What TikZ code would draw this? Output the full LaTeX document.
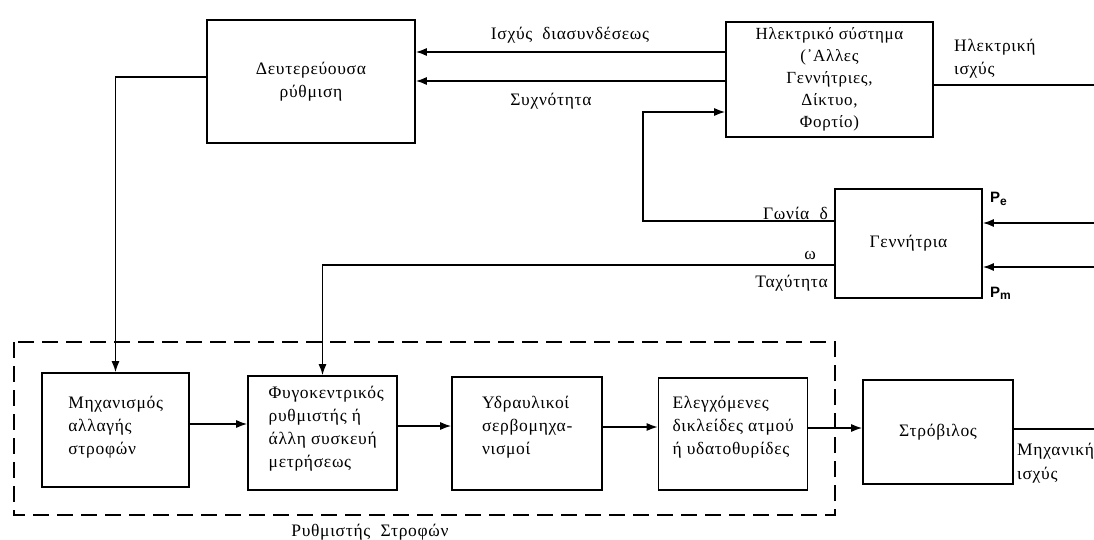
\documentclass[tikz,border=0pt]{standalone}
\usepackage{fontspec}
\setmainfont{Liberation Serif}[LetterSpace=4]
\setsansfont{Liberation Sans}
\usetikzlibrary{arrows.meta}
\newlength\wmech
\newlength\wfyg
\newlength\whyd
\newlength\wvalve
\newcommand\bfnt{\fontsize{17.5}{23}\selectfont}
\newcommand\psub[1]{P\raisebox{-2.5pt}{\fontsize{12}{12}\selectfont #1}}
\begin{document}
\settowidth{\wmech}{\bfnt Μηχανισμός}%
\settowidth{\wfyg}{\bfnt άλλη συσκευή}%
\settowidth{\whyd}{\bfnt σερβομηχα-}%
\settowidth{\wvalve}{\bfnt δικλείδες ατμού}%
\begin{tikzpicture}[x=1pt,y=-1pt,
  box/.style={draw, line width=1.6pt, inner sep=0pt, font=\bfnt},
  cbox/.style={box, align=center},
  tl/.style={font=\bfnt, inner sep=0pt, anchor=base west},
  arr/.style={-{Latex[length=11pt,width=8pt]}, line width=1.5pt},
  ln/.style={line width=1.5pt},
  lbl/.style={font=\bfnt, inner sep=0pt},
  plbl/.style={inner sep=0pt, anchor=base west, font=\fontsize{15}{17}\sffamily\bfseries},
  dashbox/.style={draw, line width=1.7pt, dash pattern=on 16pt off 8pt}]
\useasboundingbox (0,0) rectangle (1094,540);
\fill[white] (0,0) rectangle (1094,540);

% boxes
\node[cbox, minimum width=208pt, minimum height=123pt] (sec) at (311,81.5) {Δευτερεύουσα\\ρύθμιση};
\node[cbox, minimum width=207pt, minimum height=115pt, font=\fontsize{17}{22}\selectfont] (elec) at (829.5,79.5) {Ηλεκτρικό σύστημα\\(᾿Αλλες\\Γεννήτριες,\\Δίκτυο,\\Φορτίο)};
\node[cbox, minimum width=147pt, minimum height=109pt] (gen) at (908.5,243.5) {Γεννήτρια};
\node[box, minimum width=147pt, minimum height=114pt] (mech) at (115.5,430) {};
\node[box, minimum width=149pt, minimum height=114pt] (fyg) at (322.5,433) {};
\node[box, minimum width=150pt, minimum height=113pt] (hyd) at (527,433.5) {};
\node[box, minimum width=149pt, minimum height=112pt] (valve) at (733,434) {};
\node[cbox, minimum width=150pt, minimum height=104pt] (turb) at (938,432) {Στρόβιλος};

% left-aligned texts of the governor boxes
\coordinate (mechL) at ([xshift=-0.5\wmech]mech.center);
\node[tl] (mech1) at (mechL |- 0,408) {Μηχανισμός};
\node[tl] (mech2) at (mechL |- 0,431) {αλλαγής};
\node[tl] (mech3) at (mechL |- 0,454) {στροφών};

\coordinate (fygL) at ([xshift=-0.5\wfyg]fyg.center);
\node[tl] (fyg1) at (fygL |- 0,398) {Φυγοκεντρικός};
\node[tl] (fyg2) at (fygL |- 0,421) {ρυθμιστής ή};
\node[tl] (fyg3) at (fygL |- 0,444) {άλλη συσκευή};
\node[tl] (fyg4) at (fygL |- 0,467) {μετρήσεως};

\coordinate (hydL) at ([xshift=-0.5\whyd]hyd.center);
\node[tl] (hyd1) at (hydL |- 0,408) {Υδραυλικοί};
\node[tl] (hyd2) at (hydL |- 0,431) {σερβομηχα-};
\node[tl] (hyd3) at (hydL |- 0,454) {νισμοί};

\coordinate (valveL) at ([xshift=-0.5\wvalve]valve.center);
\node[tl] (valve1) at (valveL |- 0,408) {Ελεγχόμενες};
\node[tl] (valve2) at (valveL |- 0,431) {δικλείδες ατμού};
\node[tl] (valve3) at (valveL |- 0,454) {ή υδατοθυρίδες};

% dashed governor frame
\draw[dashbox] (14,342) rectangle (835,515);
\node[lbl] (gov) at (370,532) {Ρυθμιστής\ \ Στροφών};

% helper coordinates
\coordinate (yA) at (0,52);
\coordinate (yB) at (0,81);
\coordinate (yC) at (0,112);
\coordinate (yS) at (0,77);
\coordinate (yD) at (0,221);
\coordinate (yW) at (0,265);
\coordinate (yPe) at (0,223);
\coordinate (yPm) at (0,267);
\coordinate (yP) at (0,85);
\coordinate (xD) at (643,0);
\coordinate (peIn) at (1094,223);
\coordinate (pmIn) at (1094,267);
\coordinate (elOut) at (1094,85);
\coordinate (mOut) at (1094,429);

% top connectors
\draw[arr] (elec.west |- yA) -- (sec.east |- yA);
\draw[arr] (elec.west |- yB) -- (sec.east |- yB);
\node[lbl] (lA) at (570,35) {Ισχύς\ \ διασυνδέσεως};
\node[lbl] (lB) at (551,101) {Συχνότητα};
\draw[ln] (elec.east |- yP) -- (elOut);
\node[tl] (lP1) at (954,52) {Ηλεκτρική};
\node[tl] (lP2) at (954,75) {ισχύς};

% secondary control down to speed changer
\draw[arr] (sec.west |- yS) -| (mech.north);

% generator loops
\draw[arr] (gen.west |- yD) -- (xD |- yD) -- (xD |- yC) -- (elec.west |- yC);
\node[lbl, anchor=east] (lD) at (828,213) {Γωνία\ \ δ};
\draw[arr] (gen.west |- yW) -| (fyg.north);
\node[lbl] (lW) at (810,255) {ω};
\node[lbl, anchor=east] (lT) at (828,283) {Ταχύτητα};
\draw[arr] (peIn) -- (gen.east |- yPe);
\draw[arr] (pmIn) -- (gen.east |- yPm);
\node[plbl] (lPe) at (990,203) {\psub{e}};
\node[plbl] (lPm) at (990,297) {\psub{m}};

% bottom chain
\draw[arr] (mech.east |- 0,424) -- (fyg.west |- 0,424);
\draw[arr] (fyg.east |- 0,426) -- (hyd.west |- 0,426);
\draw[arr] (hyd.east |- 0,427) -- (valve.west |- 0,427);
\draw[arr] (valve.east |- 0,428) -- (turb.west |- 0,428);
\draw[ln] (turb.east |- mOut) -- (mOut);
\node[tl] (lM1) at (1017,455) {Μηχανική};
\node[tl] (lM2) at (1017,479) {ισχύς};
\end{tikzpicture}
\end{document}
